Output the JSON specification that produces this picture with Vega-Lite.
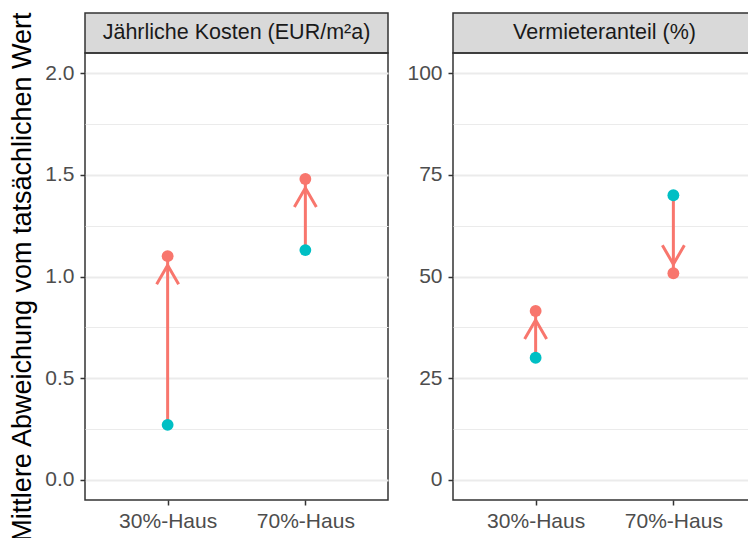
{
  "$schema": "https://vega.github.io/schema/vega-lite/v6.json",
  "padding": {"left": 8, "top": 10, "right": 0, "bottom": 0},
  "background": "white",
  "spacing": 17,
  "config": {
    "font": "Liberation Sans",
    "view": {"stroke": "#333333", "strokeWidth": 1.5},
    "axis": {
      "labelFont": "Liberation Sans",
      "labelFontSize": 21,
      "labelColor": "#4D4D4D",
      "tickColor": "#333333",
      "tickSize": 5,
      "tickWidth": 1.5,
      "domain": false,
      "gridColor": "#EBEBEB",
      "titleFont": "Liberation Sans",
      "titleFontSize": 27,
      "titleFontWeight": "normal",
      "titleColor": "#000000",
      "titlePadding": 8,
      "labelPadding": 6
    }
  },
  "data": {
    "values": [
      {"panel": "Jährliche Kosten (EUR/m²a)", "house": "30%-Haus", "start": 0.27, "end": 1.10},
      {"panel": "Jährliche Kosten (EUR/m²a)", "house": "70%-Haus", "start": 1.13, "end": 1.48},
      {"panel": "Vermieteranteil (%)", "house": "30%-Haus", "start": 30, "end": 41.5},
      {"panel": "Vermieteranteil (%)", "house": "70%-Haus", "start": 70, "end": 50.8}
    ]
  },
  "hconcat": [
    {
      "spacing": 0,
      "bounds": "flush",
      "vconcat": [
        {
          "width": 303,
          "height": 40,
          "view": {"fill": "#D9D9D9", "stroke": "#333333", "strokeWidth": 1.5},
          "transform": [{"filter": "datum.panel === 'Jährliche Kosten (EUR/m²a)' && datum.house === '30%-Haus'"}],
          "mark": {"type": "text", "fontSize": 21.5, "color": "#1A1A1A", "font": "Liberation Sans", "baseline": "middle", "align": "center"},
          "encoding": {"text": {"field": "panel"}}
        },
        {
          "width": 303,
          "height": 447,
          "transform": [{"filter": "datum.panel === 'Jährliche Kosten (EUR/m²a)'"}],
          "encoding": {
            "x": {"field": "house", "type": "nominal", "scale": {"type": "point", "padding": 0.6}, "axis": {"title": null, "labelAngle": 0, "grid": false, "labelPadding": 5}}
          },
          "layer": [
            {
              "mark": {"type": "rule", "color": "#F8766D", "strokeWidth": 3},
              "encoding": {
                "y": {"field": "start", "type": "quantitative", "scale": {"domain": [-0.1, 2.1], "nice": false, "zero": false},
                  "title": "Mittlere Abweichung vom tatsächlichen Wert",
                  "axis": {"values": [0, 0.25, 0.5, 0.75, 1, 1.25, 1.5, 1.75, 2], "labelExpr": "datum.value % 0.5 === 0 ? format(datum.value, '.1f') : ''",
                    "gridWidth": {"condition": {"test": "datum.value % 0.5 === 0", "value": 2}, "value": 1},
                    "tickOpacity": {"condition": {"test": "datum.value % 0.5 === 0", "value": 1}, "value": 0}}},
                "y2": {"field": "end"}
              }
            },
            {
              "mark": {"type": "point", "filled": false, "stroke": "#F8766D", "strokeWidth": 3, "size": 400, "opacity": 1, "strokeJoin": "round"},
              "encoding": {
                "y": {"field": "end", "type": "quantitative", "title": "Mittlere Abweichung vom tatsächlichen Wert"},
                "shape": {"condition": {"test": "datum.end > datum.start", "value": "M-1.1,2.8L0,0.9L1.1,2.8"}, "value": "M-1.1,-2.8L0,-0.9L1.1,-2.8"}
              }
            },
            {
              "transform": [{"fold": ["start", "end"], "as": ["type", "value"]}],
              "mark": {"type": "point", "filled": true, "size": 140, "opacity": 1},
              "encoding": {
                "y": {"field": "value", "type": "quantitative", "title": "Mittlere Abweichung vom tatsächlichen Wert"},
                "color": {"field": "type", "type": "nominal", "scale": {"domain": ["start", "end"], "range": ["#00BFC4", "#F8766D"]}, "legend": null}
              }
            }
          ]
        }
      ]
    },
    {
      "spacing": 0,
      "bounds": "flush",
      "vconcat": [
        {
          "width": 303,
          "height": 40,
          "view": {"fill": "#D9D9D9", "stroke": "#333333", "strokeWidth": 1.5},
          "transform": [{"filter": "datum.panel === 'Vermieteranteil (%)' && datum.house === '30%-Haus'"}],
          "mark": {"type": "text", "fontSize": 21.5, "color": "#1A1A1A", "font": "Liberation Sans", "baseline": "middle", "align": "center"},
          "encoding": {"text": {"field": "panel"}}
        },
        {
          "width": 303,
          "height": 447,
          "transform": [{"filter": "datum.panel === 'Vermieteranteil (%)'"}],
          "encoding": {
            "x": {"field": "house", "type": "nominal", "scale": {"type": "point", "padding": 0.6}, "axis": {"title": null, "labelAngle": 0, "grid": false, "labelPadding": 5}}
          },
          "layer": [
            {
              "mark": {"type": "rule", "color": "#F8766D", "strokeWidth": 3},
              "encoding": {
                "y": {"field": "start", "type": "quantitative", "scale": {"domain": [-5, 105], "nice": false, "zero": false},
                  "title": null,
                  "axis": {"values": [0, 12.5, 25, 37.5, 50, 62.5, 75, 87.5, 100], "labelExpr": "datum.value % 25 === 0 ? format(datum.value, 'd') : ''",
                    "gridWidth": {"condition": {"test": "datum.value % 25 === 0", "value": 2}, "value": 1},
                    "tickOpacity": {"condition": {"test": "datum.value % 25 === 0", "value": 1}, "value": 0}}},
                "y2": {"field": "end"}
              }
            },
            {
              "mark": {"type": "point", "filled": false, "stroke": "#F8766D", "strokeWidth": 3, "size": 400, "opacity": 1, "strokeJoin": "round"},
              "encoding": {
                "y": {"field": "end", "type": "quantitative", "title": null},
                "shape": {"condition": {"test": "datum.end > datum.start", "value": "M-1.1,2.8L0,0.9L1.1,2.8"}, "value": "M-1.1,-2.8L0,-0.9L1.1,-2.8"}
              }
            },
            {
              "transform": [{"fold": ["start", "end"], "as": ["type", "value"]}],
              "mark": {"type": "point", "filled": true, "size": 140, "opacity": 1},
              "encoding": {
                "y": {"field": "value", "type": "quantitative", "title": null},
                "color": {"field": "type", "type": "nominal", "scale": {"domain": ["start", "end"], "range": ["#00BFC4", "#F8766D"]}, "legend": null}
              }
            }
          ]
        }
      ]
    }
  ]
}
